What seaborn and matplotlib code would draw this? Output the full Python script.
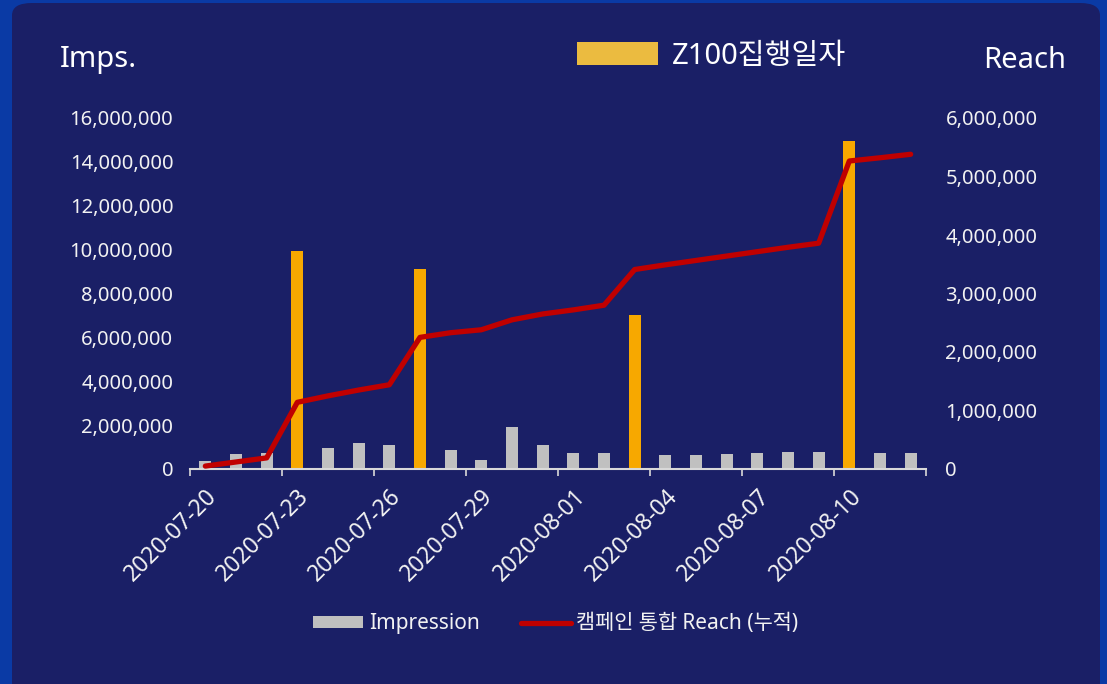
import matplotlib
matplotlib.use("Agg")
import numpy as np
import pandas as pd
import seaborn as sns
import matplotlib.pyplot as plt
from matplotlib.patches import FancyBboxPatch, Rectangle
from matplotlib.lines import Line2D
from matplotlib.ticker import FuncFormatter, FixedLocator

# 일자별 데이터 (2020-07-20 ~ 2020-08-12)
dates = pd.date_range("2020-07-20", "2020-08-12", freq="D").strftime("%Y-%m-%d").tolist()
impression = [350000, 680000, 740000, 9950000, 960000, 1180000, 1100000, 9100000,
              870000, 420000, 1900000, 1100000, 720000, 730000, 7000000, 650000,
              650000, 680000, 710000, 770000, 770000, 14950000, 710000, 710000]
reach = [50000, 120000, 190000, 1140000, 1250000, 1350000, 1440000, 2250000,
         2330000, 2380000, 2550000, 2650000, 2720000, 2800000, 3410000, 3490000,
         3565000, 3640000, 3715000, 3790000, 3860000, 5265000, 5320000, 5380000]
z100_days = ["2020-07-23", "2020-07-27", "2020-08-03", "2020-08-10"]

NAVY = "#1a1f66"
BORDER = "#0a3aa5"
GRAY = "#c0c0c0"
GOLD = "#f7a800"
RED = "#c00000"
TXT = "#f2f2f2"

sns.set_theme(style="white")
plt.rcParams["font.family"] = ["Noto Sans", "Noto Sans CJK KR", "DejaVu Sans"]

df = pd.DataFrame({"date": dates, "impression": impression, "reach": reach})
df["z100"] = np.where(df["date"].isin(z100_days), "z100", "normal")

fig = plt.figure(figsize=(11.07, 6.84), dpi=100)
fig.patch.set_facecolor(BORDER)
fig.patches.append(FancyBboxPatch((12 / 1107, -0.05), 1088 / 1107, 1.05 - 3 / 684,
                                  boxstyle="round,pad=0,rounding_size=0.018",
                                  transform=fig.transFigure, facecolor=NAVY,
                                  edgecolor="none", zorder=-5))

ax = fig.add_axes([190 / 1107, (684 - 469) / 684, 736 / 1107, 351 / 684])
ax.set_facecolor("none")

sns.barplot(data=df, x="date", y="impression", hue="z100",
            palette={"normal": GRAY, "z100": GOLD}, dodge=False, saturation=1,
            width=0.4, linewidth=0, edgecolor="none", legend=False, ax=ax, zorder=2)
ax.set_xlim(-0.5, len(dates) - 0.5)
ax.set_ylim(0, 16000000)
ax.set_yticks(np.arange(0, 16000001, 2000000))
ax.yaxis.set_major_formatter(FuncFormatter(lambda v, p: f"{int(v):,}"))
ax.set_xlabel("")
ax.set_ylabel("")

# x축: 눈금은 구간 경계, 라벨은 3일 간격
ax.set_xticks(range(0, len(dates), 3))
ax.set_xticklabels(dates[::3], rotation=45, ha="right", rotation_mode="anchor")
ax.xaxis.set_minor_locator(FixedLocator(np.arange(-0.5, len(dates), 3)))
ax.tick_params(axis="x", which="major", length=0, pad=11, labelsize=16.5, labelcolor=TXT)
ax.tick_params(axis="x", which="minor", length=5, width=1.2, color="#d9d9d9", bottom=True)
ax.tick_params(axis="y", length=0, pad=12, labelsize=14.5, labelcolor=TXT)

for s in ["top", "right", "left"]:
    ax.spines[s].set_visible(False)
ax.spines["bottom"].set_color("#d9d9d9")
ax.spines["bottom"].set_linewidth(1.5)

ax2 = ax.twinx()
sns.lineplot(x=np.arange(len(dates)), y=reach, color=RED, linewidth=3.8,
             solid_capstyle="round", solid_joinstyle="round", ax=ax2, zorder=3)
ax2.set_ylim(0, 6000000)
ax2.set_yticks(np.arange(0, 6000001, 1000000))
ax2.yaxis.set_major_formatter(FuncFormatter(lambda v, p: f"{int(v):,}"))
ax2.tick_params(axis="y", length=0, pad=14, labelsize=14.5, labelcolor=TXT)
for s in ax2.spines.values():
    s.set_visible(False)

# 상단 제목 및 범례
fig.text(60 / 1107, 1 - 60 / 684, "Imps.", color="white", fontsize=21,
         va="center", ha="left")
fig.text(1066 / 1107, 1 - 60 / 684, "Reach", color="white", fontsize=21,
         va="center", ha="right")
fig.patches.append(Rectangle((577 / 1107, 1 - 65 / 684), 81 / 1107, 23 / 684,
                             transform=fig.transFigure, facecolor="#ebbb40",
                             edgecolor="none", zorder=3))
fig.text(672 / 1107, 1 - 56 / 684, "Z100집행일자", color="white", fontsize=21,
         va="center", ha="left")

handles = [Rectangle((0, 0), 1, 1, facecolor="#bfbfbf", edgecolor="none"),
           Line2D([0], [0], color=RED, linewidth=3.8, solid_capstyle="round")]
fig.legend(handles, ["Impression", "캠페인 통합 Reach (누적)"],
           loc="center", bbox_to_anchor=(556 / 1107, 1 - 624 / 684), ncol=2,
           frameon=False, fontsize=15, labelcolor=TXT, handlelength=2.4,
           handleheight=0.55, handletextpad=0.25, columnspacing=2.0)

fig.savefig("out.png", dpi=100, facecolor=fig.get_facecolor())
